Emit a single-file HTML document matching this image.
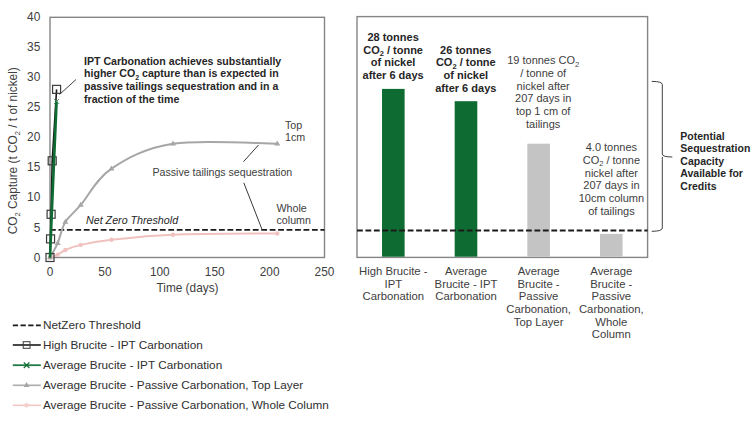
<!DOCTYPE html><html><head><meta charset="utf-8"><style>html,body{margin:0;padding:0;background:#fff;overflow:hidden;}svg{display:block;}</style></head><body>
<svg width="756" height="421" viewBox="0 0 756 421" font-family="'Liberation Sans', Arial, sans-serif">
<rect width="756" height="421" fill="#fff"/>
<rect x="50.0" y="17.3" width="274.5" height="240.2" fill="none" stroke="#858585" stroke-width="1.4"/>
<text x="40.3" y="261.5" font-size="11.9" fill="#404040" text-anchor="end">0</text>
<text x="40.3" y="231.5" font-size="11.9" fill="#404040" text-anchor="end">5</text>
<text x="40.3" y="201.4" font-size="11.9" fill="#404040" text-anchor="end">10</text>
<text x="40.3" y="171.4" font-size="11.9" fill="#404040" text-anchor="end">15</text>
<text x="40.3" y="141.4" font-size="11.9" fill="#404040" text-anchor="end">20</text>
<text x="40.3" y="111.4" font-size="11.9" fill="#404040" text-anchor="end">25</text>
<text x="40.3" y="81.3" font-size="11.9" fill="#404040" text-anchor="end">30</text>
<text x="40.3" y="51.3" font-size="11.9" fill="#404040" text-anchor="end">35</text>
<text x="40.3" y="21.3" font-size="11.9" fill="#404040" text-anchor="end">40</text>
<text x="50.0" y="275.5" font-size="11.85" fill="#404040" text-anchor="middle">0</text>
<text x="104.9" y="275.5" font-size="11.85" fill="#404040" text-anchor="middle">50</text>
<text x="159.8" y="275.5" font-size="11.85" fill="#404040" text-anchor="middle">100</text>
<text x="214.7" y="275.5" font-size="11.85" fill="#404040" text-anchor="middle">150</text>
<text x="269.6" y="275.5" font-size="11.85" fill="#404040" text-anchor="middle">200</text>
<text x="324.5" y="275.5" font-size="11.85" fill="#404040" text-anchor="middle">250</text>
<text x="187.5" y="291.7" font-size="11.85" fill="#404040" text-anchor="middle">Time (days)</text>
<text transform="translate(17,150.7) rotate(-90)" font-size="11.85" fill="#404040" text-anchor="middle">CO<tspan font-size="7.5" dy="2.5">2</tspan><tspan dy="-2.5"> Capture (t CO</tspan><tspan font-size="7.5" dy="2.5">2</tspan><tspan dy="-2.5"> / t of nickel)</tspan></text>
<line x1="50.0" y1="229.9" x2="324.5" y2="229.9" stroke="#1a1a1a" stroke-width="1.9" stroke-dasharray="5.8 2.65"/>
<text x="86" y="224.4" font-size="10.7" font-style="italic" fill="#262626">Net Zero Threshold</text>
<path d="M50.00,257.50 C51.28,257.05 55.12,256.05 57.69,254.80 C60.25,253.55 61.53,251.65 65.37,249.99 C69.22,248.34 73.06,246.59 80.74,244.89 C88.43,243.19 96.12,241.49 111.49,239.79 C126.86,238.08 145.34,235.73 172.98,234.68 C200.61,233.63 259.90,233.68 277.29,233.48" fill="none" stroke="#efc2c0" stroke-width="2"/>
<circle cx="50.00" cy="257.50" r="2.2" fill="#efc2c0"/>
<circle cx="57.69" cy="254.80" r="2.2" fill="#efc2c0"/>
<circle cx="65.37" cy="249.99" r="2.2" fill="#efc2c0"/>
<circle cx="80.74" cy="244.89" r="2.2" fill="#efc2c0"/>
<circle cx="111.49" cy="239.79" r="2.2" fill="#efc2c0"/>
<circle cx="172.98" cy="234.68" r="2.2" fill="#efc2c0"/>
<circle cx="277.29" cy="233.48" r="2.2" fill="#efc2c0"/>
<path d="M50.00,257.50 C51.28,255.10 55.12,248.99 57.69,243.09 C60.25,237.18 61.53,228.43 65.37,222.07 C69.22,215.72 73.06,213.86 80.74,204.96 C88.43,196.05 96.12,178.83 111.49,168.63 C126.86,158.42 145.34,147.86 172.98,143.71 C200.61,139.55 259.90,143.71 277.29,143.71" fill="none" stroke="#a6a6a6" stroke-width="2"/>
<path d="M50.00,254.30 l3,5 h-6 z" fill="#a6a6a6"/>
<path d="M57.69,239.89 l3,5 h-6 z" fill="#a6a6a6"/>
<path d="M65.37,218.87 l3,5 h-6 z" fill="#a6a6a6"/>
<path d="M80.74,201.76 l3,5 h-6 z" fill="#a6a6a6"/>
<path d="M111.49,165.43 l3,5 h-6 z" fill="#a6a6a6"/>
<path d="M172.98,140.51 l3,5 h-6 z" fill="#a6a6a6"/>
<path d="M277.29,140.51 l3,5 h-6 z" fill="#a6a6a6"/>
<path d="M50.00,257.50 L50.55,238.88 L51.10,214.26 L52.20,160.82 L56.59,89.36" fill="none" stroke="#1a1a1a" stroke-width="1.6"/>
<rect x="46.00" y="253.50" width="8" height="8" fill="none" stroke="#3a3a3a" stroke-width="1.2"/>
<rect x="46.55" y="234.88" width="8" height="8" fill="none" stroke="#3a3a3a" stroke-width="1.2"/>
<rect x="47.10" y="210.26" width="8" height="8" fill="none" stroke="#3a3a3a" stroke-width="1.2"/>
<rect x="48.20" y="156.82" width="8" height="8" fill="none" stroke="#3a3a3a" stroke-width="1.2"/>
<rect x="52.59" y="85.36" width="8" height="8" fill="none" stroke="#3a3a3a" stroke-width="1.2"/>
<path d="M50.00,257.50 L51.10,230.48 L52.20,203.46 L56.59,101.37" fill="none" stroke="#0e6c32" stroke-width="2.6"/>
<path d="M54.09,98.87 l5,5 m0,-5 l-5,5" stroke="#3d8f5c" stroke-width="1"/>
<path d="M59.5,94.5 L76,79.5" stroke="#404040" stroke-width="1" fill="none"/>
<path d="M243.4,161.8 L258.5,145" stroke="#3a3a3a" stroke-width="1" fill="none"/>
<path d="M243.8,182.8 L262.2,229.9" stroke="#3a3a3a" stroke-width="1" fill="none"/>
<text x="84" y="64.8" font-size="10.6" font-weight="bold" fill="#262626">IPT Carbonation achieves substantially</text>
<text x="84" y="77.4" font-size="10.6" font-weight="bold" fill="#262626">higher CO<tspan font-size="7" dy="2.5">2</tspan><tspan dy="-2.5"> capture than is expected in</tspan></text>
<text x="84" y="90.0" font-size="10.6" font-weight="bold" fill="#262626">passive tailings sequestration and in a</text>
<text x="84" y="102.6" font-size="10.6" font-weight="bold" fill="#262626">fraction of the time</text>
<text x="285" y="128.7" font-size="10.7" fill="#404040">Top</text>
<text x="285" y="140.8" font-size="10.7" fill="#404040">1cm</text>
<text x="152.5" y="176.4" font-size="10.62" fill="#404040">Passive tailings sequestration</text>
<text x="276.5" y="211.7" font-size="10.7" fill="#404040">Whole</text>
<text x="276.5" y="223.9" font-size="10.7" fill="#404040">column</text>
<rect x="357.0" y="16.6" width="290.6" height="240.8" fill="none" stroke="#858585" stroke-width="1.4"/>
<rect x="382.02" y="88.90" width="22.60" height="167.80" fill="#0e6c32"/>
<rect x="454.68" y="101.20" width="22.60" height="155.50" fill="#0e6c32"/>
<rect x="527.33" y="143.70" width="22.60" height="113.00" fill="#c4c4c4"/>
<rect x="599.98" y="233.90" width="22.60" height="22.80" fill="#c4c4c4"/>
<line x1="357.0" y1="230.5" x2="647.6" y2="230.5" stroke="#1a1a1a" stroke-width="1.9" stroke-dasharray="5.8 2.65"/>
<text x="393.1" y="40.7" font-size="11" font-weight="bold" fill="#262626" text-anchor="middle">28 tonnes</text>
<text x="393.1" y="53.6" font-size="11" font-weight="bold" fill="#262626" text-anchor="middle">CO<tspan font-size="7.5" dy="2.5">2</tspan><tspan dy="-2.5"> / tonne</tspan></text>
<text x="393.1" y="66.4" font-size="11" font-weight="bold" fill="#262626" text-anchor="middle">of nickel</text>
<text x="393.1" y="79.2" font-size="11" font-weight="bold" fill="#262626" text-anchor="middle">after 6 days</text>
<text x="465.8" y="53.5" font-size="11" font-weight="bold" fill="#262626" text-anchor="middle">26 tonnes</text>
<text x="465.8" y="66.3" font-size="11" font-weight="bold" fill="#262626" text-anchor="middle">CO<tspan font-size="7.5" dy="2.5">2</tspan><tspan dy="-2.5"> / tonne</tspan></text>
<text x="465.8" y="79.2" font-size="11" font-weight="bold" fill="#262626" text-anchor="middle">of nickel</text>
<text x="465.8" y="92.0" font-size="11" font-weight="bold" fill="#262626" text-anchor="middle">after 6 days</text>
<text x="543.2" y="64.1" font-size="11"  fill="#404040" text-anchor="middle">19 tonnes CO<tspan font-size="7.5" dy="2.5">2</tspan></text>
<text x="543.2" y="76.8" font-size="11"  fill="#404040" text-anchor="middle">/ tonne of</text>
<text x="543.2" y="89.6" font-size="11"  fill="#404040" text-anchor="middle">nickel after</text>
<text x="543.2" y="102.3" font-size="11"  fill="#404040" text-anchor="middle">207 days in</text>
<text x="543.2" y="115.1" font-size="11"  fill="#404040" text-anchor="middle">top 1 cm of</text>
<text x="543.2" y="127.8" font-size="11"  fill="#404040" text-anchor="middle">tailings</text>
<text x="611.4" y="151.2" font-size="11"  fill="#404040" text-anchor="middle">4.0 tonnes</text>
<text x="611.4" y="163.9" font-size="11"  fill="#404040" text-anchor="middle">CO<tspan font-size="7.5" dy="2.5">2</tspan><tspan dy="-2.5"> / tonne</tspan></text>
<text x="611.4" y="176.6" font-size="11"  fill="#404040" text-anchor="middle">nickel after</text>
<text x="611.4" y="189.4" font-size="11"  fill="#404040" text-anchor="middle">207 days in</text>
<text x="611.4" y="202.1" font-size="11"  fill="#404040" text-anchor="middle">10cm column</text>
<text x="611.4" y="214.8" font-size="11"  fill="#404040" text-anchor="middle">of tailings</text>
<text x="393.3" y="275.0" font-size="11.3"  fill="#404040" text-anchor="middle">High Brucite -</text>
<text x="393.3" y="287.7" font-size="11.3"  fill="#404040" text-anchor="middle">IPT</text>
<text x="393.3" y="300.4" font-size="11.3"  fill="#404040" text-anchor="middle">Carbonation</text>
<text x="466.0" y="275.0" font-size="11.3"  fill="#404040" text-anchor="middle">Average</text>
<text x="466.0" y="287.7" font-size="11.3"  fill="#404040" text-anchor="middle">Brucite - IPT</text>
<text x="466.0" y="300.4" font-size="11.3"  fill="#404040" text-anchor="middle">Carbonation</text>
<text x="538.6" y="275.0" font-size="11.3"  fill="#404040" text-anchor="middle">Average</text>
<text x="538.6" y="287.7" font-size="11.3"  fill="#404040" text-anchor="middle">Brucite -</text>
<text x="538.6" y="300.4" font-size="11.3"  fill="#404040" text-anchor="middle">Passive</text>
<text x="538.6" y="313.0" font-size="11.3"  fill="#404040" text-anchor="middle">Carbonation,</text>
<text x="538.6" y="325.7" font-size="11.3"  fill="#404040" text-anchor="middle">Top Layer</text>
<text x="611.3" y="275.0" font-size="11.3"  fill="#404040" text-anchor="middle">Average</text>
<text x="611.3" y="287.7" font-size="11.3"  fill="#404040" text-anchor="middle">Brucite -</text>
<text x="611.3" y="300.4" font-size="11.3"  fill="#404040" text-anchor="middle">Passive</text>
<text x="611.3" y="313.0" font-size="11.3"  fill="#404040" text-anchor="middle">Carbonation,</text>
<text x="611.3" y="325.7" font-size="11.3"  fill="#404040" text-anchor="middle">Whole</text>
<text x="611.3" y="338.4" font-size="11.3"  fill="#404040" text-anchor="middle">Column</text>
<path d="M651.7,81.4 Q662.3,81.4 662.3,84.5 L662.3,154 Q662.3,157 672.3,157 M662.3,157 Q662.3,160 662.3,160 L662.3,228 Q662.3,231.3 651.7,231.3" fill="none" stroke="#404040" stroke-width="1"/>
<text x="680.3" y="139.6" font-size="10.5" font-weight="bold" fill="#262626">Potential</text>
<text x="680.3" y="152.2" font-size="10.5" font-weight="bold" fill="#262626">Sequestration</text>
<text x="680.3" y="164.8" font-size="10.5" font-weight="bold" fill="#262626">Capacity</text>
<text x="680.3" y="177.4" font-size="10.5" font-weight="bold" fill="#262626">Available for</text>
<text x="680.3" y="190.0" font-size="10.5" font-weight="bold" fill="#262626">Credits</text>
<line x1="12.8" y1="325.4" x2="40.8" y2="325.4" stroke="#1a1a1a" stroke-width="1.9" stroke-dasharray="5.3 2.4"/>
<text x="43" y="329.2" font-size="11.75" fill="#2e2e2e">NetZero Threshold</text>
<line x1="12.8" y1="345.0" x2="40.8" y2="345.0" stroke="#1a1a1a" stroke-width="1.6"/>
<rect x="23.2" y="341.7" width="6.8" height="6.6" fill="none" stroke="#3a3a3a" stroke-width="1"/>
<text x="43" y="348.8" font-size="11.75" fill="#2e2e2e">High Brucite - IPT Carbonation</text>
<line x1="12.8" y1="365.2" x2="40.8" y2="365.2" stroke="#1f7a47" stroke-width="1.8"/>
<path d="M23.8,362.4 l5.6,5.6 m0,-5.6 l-5.6,5.6" stroke="#0e6c32" stroke-width="1.2"/>
<text x="43" y="369.0" font-size="11.75" fill="#2e2e2e">Average Brucite - IPT Carbonation</text>
<line x1="12.8" y1="385.3" x2="40.8" y2="385.3" stroke="#acacac" stroke-width="1.6"/>
<path d="M26.6,382.1 l3,5 h-6 z" fill="#a6a6a6"/>
<text x="43" y="389.1" font-size="11.75" fill="#2e2e2e">Average Brucite - Passive Carbonation, Top Layer</text>
<line x1="12.8" y1="405.3" x2="40.8" y2="405.3" stroke="#efc6c4" stroke-width="1.6"/>
<circle cx="26.6" cy="405.3" r="2.3" fill="#f3d0ce"/>
<text x="43" y="409.1" font-size="11.75" fill="#2e2e2e">Average Brucite - Passive Carbonation, Whole Column</text>
</svg></body></html>
